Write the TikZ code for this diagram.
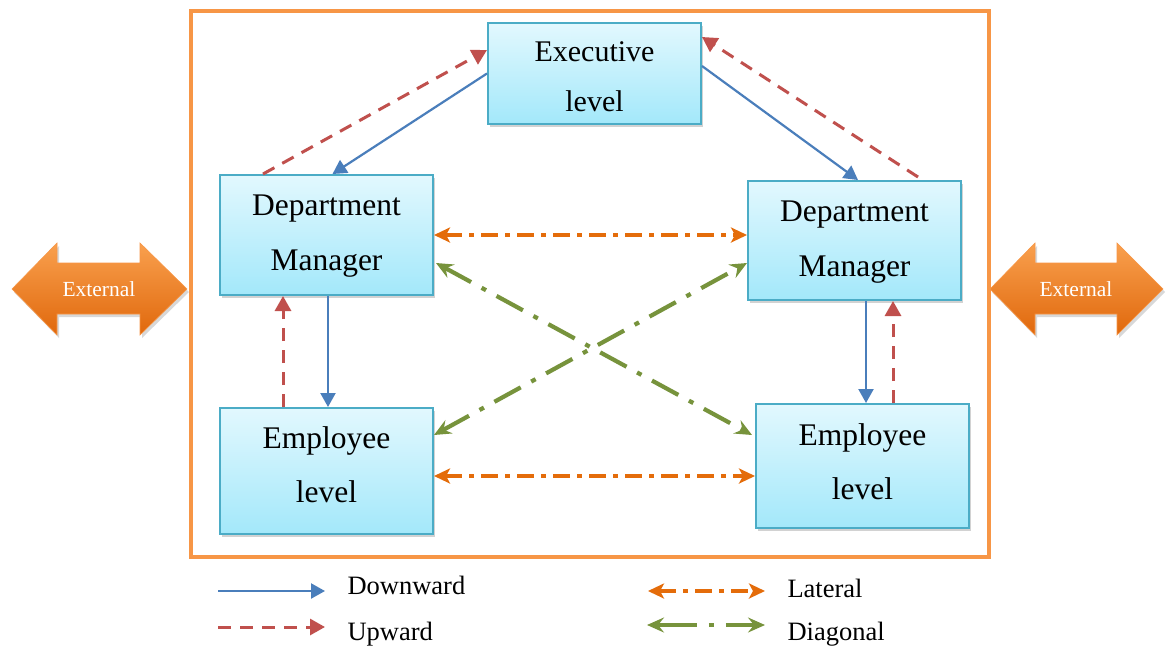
\documentclass[tikz,border=0pt]{standalone}
\usepackage{fontspec}
\setmainfont{Liberation Serif}
\usetikzlibrary{arrows.meta,shadows,calc}
\definecolor{cblue}{HTML}{4A7EBB}
\definecolor{cred}{HTML}{C0504D}
\definecolor{corange}{HTML}{E46C0A}
\definecolor{cgreen}{HTML}{77933C}
\definecolor{cframe}{HTML}{F79646}
\definecolor{cbord}{HTML}{4BACC6}
\definecolor{ctop}{HTML}{E2F8FE}
\definecolor{cbot}{HTML}{A3E8FA}
\definecolor{extop}{HTML}{F9A04E}
\definecolor{exbot}{HTML}{E0680C}
\tikzset{
  levelbox/.style={draw=cbord, line width=2pt, top color=ctop, bottom color=cbot,
    inner sep=0pt, minimum width=213pt,
    drop shadow={shadow xshift=2pt, shadow yshift=-3pt, opacity=0.35, fill=gray}},
  boxtext/.style={inner sep=0pt, align=center},
  down/.style={cblue, line width=2.2pt, -{Triangle[length=14pt,width=15pt]}},
  up/.style={cred, line width=3pt, dash pattern=on 13pt off 9pt, -{Triangle[length=15pt,width=16pt]}},
  lat/.style={corange, line width=3.8pt, dash pattern=on 17pt off 7pt on 5pt off 7pt,
    {Stealth[length=16pt,width=15pt,inset=4pt]}-{Stealth[length=16pt,width=15pt,inset=4pt]}},
  diag/.style={cgreen, line width=4.2pt, dash pattern=on 30pt off 12pt on 5pt off 12pt,
    {Stealth[length=17pt,width=15pt,inset=6pt]}-{Stealth[length=17pt,width=15pt,inset=6pt]}},
  extarrow/.style={top color=extop, bottom color=exbot, draw=cframe, line width=0.6pt,
    drop shadow={shadow xshift=2pt, shadow yshift=-3pt, opacity=0.3, fill=gray}},
  exttext/.style={text=white, font=\fontsize{21.5}{24}\selectfont},
  legtext/.style={anchor=base west, font=\fontsize{26.5}{30}\selectfont},
}
\begin{document}
\begin{tikzpicture}[x=1pt,y=-1pt]
\useasboundingbox (0,0) rectangle (1170,646);
\fill[white] (0,0) rectangle (1170,646);
% frame
\draw[cframe, line width=4pt] (191,11) rectangle (989,557);
% external arrows
\path[extarrow] (12,289) -- (57,243) -- (57,263) -- (140,263) -- (140,243) -- (187,289)
  -- (140,335) -- (140,314) -- (57,314) -- (57,335) -- cycle;
\node[exttext] (extL) at (99,289) {External};
\path[extarrow] (990,289) -- (1035,243) -- (1035,263) -- (1117,263) -- (1117,243) -- (1163,289)
  -- (1117,335) -- (1117,314) -- (1035,314) -- (1035,335) -- cycle;
\node[exttext] (extR) at (1076,289) {External};
% boxes
\node[levelbox, minimum height=101pt] (ex) at (594.5,73.5) {};
\node[levelbox, minimum height=120pt] (dl) at (326.5,235) {};
\node[levelbox, minimum height=119pt] (dr) at (854.5,240.5) {};
\node[levelbox, minimum height=126pt] (el) at (326.5,471) {};
\node[levelbox, minimum height=124pt] (er) at (862.5,466) {};
\node[boxtext, font=\fontsize{30}{50}\selectfont] (ext) at ([yshift=-3pt]ex.center) {Executive\\level};
\node[boxtext, font=\fontsize{31.5}{55}\selectfont] (dlt) at ([yshift=-1.5pt]dl.center) {Department\\Manager};
\node[boxtext, font=\fontsize{31.5}{55}\selectfont] (drt) at ([yshift=-1.5pt]dr.center) {Department\\Manager};
\node[boxtext, font=\fontsize{31.5}{54}\selectfont] (elt) at ([yshift=6pt]el.center) {Employee\\level};
\node[boxtext, font=\fontsize{31.5}{54}\selectfont] (ert) at ([yshift=4.5pt]er.center) {Employee\\level};
% downward
\draw[down] (ex.west) -- ([xshift=6pt]dl.north);
\draw[down] ([yshift=7.5pt]ex.east) -- ([xshift=3.5pt]dr.north);
\draw[down] ([xshift=1.5pt]dl.south) -- ([xshift=1.5pt]el.north);
\draw[down] ([xshift=11.5pt]dr.south) -- ([xshift=3.5pt]er.north);
% upward
\draw[up] ([xshift=-63.5pt]dl.north) -- ([yshift=23.5pt]ex.west);
\draw[up] ([xshift=63.5pt,yshift=3pt]dr.north) -- ([yshift=36.5pt]ex.east);
\draw[up] ([xshift=-43.5pt]el.north) -- ([xshift=-43.5pt]dl.south);
\draw[up] ([xshift=30.5pt]er.north) -- ([xshift=38.5pt]dr.south);
% lateral
\draw[lat] (dl.east) -- ([yshift=5.5pt]dr.west);
\draw[lat] ([yshift=-5pt]el.east) -- ([yshift=-10pt]er.west);
% diagonal
\draw[diag] ([xshift=2pt,yshift=-28pt]dl.east) -- ([xshift=-3pt,yshift=31pt]er.west);
\draw[diag] ([yshift=36pt]el.east) -- ([yshift=-22.5pt]dr.west);
% legend
\coordinate (d1) at (218,591); \coordinate (d2) at (325,591);
\coordinate (u1) at (218,627); \coordinate (u2) at (325,627);
\coordinate (l1) at (648,591); \coordinate (l2) at (765,591);
\coordinate (g1) at (647,625); \coordinate (g2) at (765,625);
\draw[down] (d1) -- (d2);
\draw[up] (u1) -- (u2);
\draw[lat] (l1) -- (l2);
\draw[diag, dash pattern=on 40pt off 12pt on 5pt off 12pt] (g1) -- (g2);
\node[legtext] (td) at (344,594) {Downward};
\node[legtext] (tu) at (344,640) {Upward};
\node[legtext] (tl) at (784,597) {Lateral};
\node[legtext] (tg) at (784,640) {Diagonal};
\end{tikzpicture}
\end{document}
